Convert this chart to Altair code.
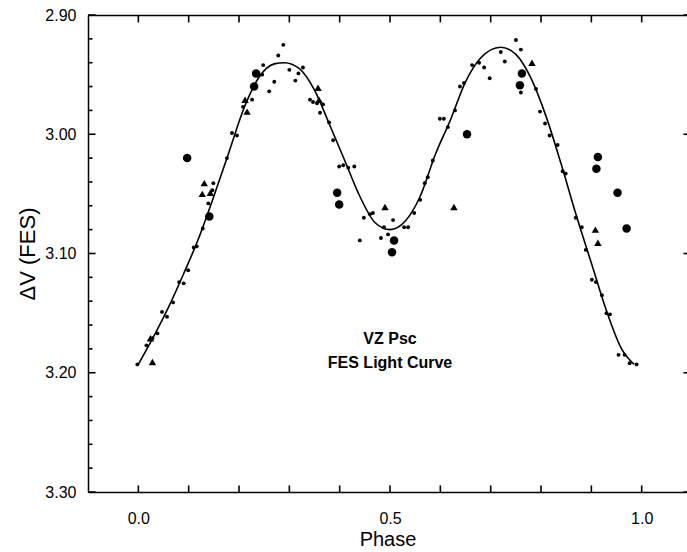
import altair as alt
import pandas as pd

# fitted light curve
curve_phase = [0.00, 0.03, 0.06, 0.09, 0.12, 0.15, 0.18, 0.21, 0.24, 0.27, 0.29, 0.32,
               0.35, 0.38, 0.41, 0.44, 0.47, 0.50, 0.53, 0.56, 0.59, 0.62, 0.65, 0.68,
               0.72, 0.75, 0.78, 0.81, 0.84, 0.87, 0.90, 0.93, 0.96, 0.985]
curve_dv = [3.193, 3.170, 3.145, 3.117, 3.087, 3.052, 3.015, 2.978, 2.952, 2.941, 2.940, 2.945,
            2.963, 2.992, 3.022, 3.052, 3.074, 3.080, 3.073, 3.052, 3.017, 2.988, 2.956, 2.936,
            2.927, 2.933, 2.953, 2.985, 3.025, 3.068, 3.108, 3.148, 3.180, 3.193]

# small dots
dot_phase = [-0.002, 0.016, 0.028, 0.038, 0.047, 0.057, 0.069, 0.081, 0.090, 0.099, 0.110, 0.116,
             0.128, 0.139, 0.147, 0.149, 0.176, 0.186, 0.196, 0.208, 0.226, 0.232, 0.246, 0.248,
             0.260, 0.270, 0.278, 0.288, 0.300, 0.312, 0.318, 0.327, 0.341, 0.347, 0.355, 0.361,
             0.367, 0.379, 0.387, 0.399, 0.407, 0.417, 0.429, 0.440, 0.448, 0.460, 0.466, 0.482,
             0.488, 0.496, 0.506, 0.528, 0.536, 0.548, 0.560, 0.569, 0.575, 0.585, 0.599, 0.607,
             0.615, 0.629, 0.639, 0.647, 0.663, 0.677, 0.687, 0.698, 0.720, 0.728, 0.750, 0.760,
             0.760, 0.790, 0.798, 0.808, 0.817, 0.833, 0.843, 0.849, 0.869, 0.881, 0.889, 0.901,
             0.909, 0.921, 0.930, 0.937, 0.954, 0.966, 0.976, 0.990]
dot_dv = [3.193, 3.177, 3.171, 3.167, 3.149, 3.153, 3.141, 3.124, 3.125, 3.114, 3.095, 3.094,
          3.079, 3.058, 3.047, 3.041, 3.020, 2.999, 3.001, 2.977, 2.971, 2.959, 2.950, 2.942,
          2.964, 2.956, 2.934, 2.925, 2.946, 2.955, 2.949, 2.944, 2.971, 2.973, 2.974, 2.982,
          2.975, 2.990, 3.005, 3.027, 3.026, 3.028, 3.027, 3.089, 3.070, 3.067, 3.066, 3.087,
          3.078, 3.084, 3.072, 3.078, 3.078, 3.066, 3.055, 3.041, 3.036, 3.022, 2.987, 2.987,
          2.994, 2.980, 2.960, 2.957, 2.942, 2.940, 2.944, 2.953, 2.931, 2.939, 2.921, 2.929,
          2.965, 2.962, 2.981, 2.991, 3.001, 3.009, 3.031, 3.033, 3.070, 3.078, 3.097, 3.122,
          3.124, 3.135, 3.150, 3.151, 3.185, 3.185, 3.192, 3.193]

# large filled circles
circle_phase = [0.097, 0.141, 0.234, 0.230, 0.395, 0.399, 0.508, 0.504, 0.653, 0.762, 0.758,
                0.913, 0.910, 0.952, 0.970]
circle_dv = [3.020, 3.069, 2.949, 2.960, 3.049, 3.059, 3.089, 3.099, 3.000, 2.949, 2.959,
             3.019, 3.029, 3.049, 3.079]

# filled triangles
tri_phase = [0.024, 0.028, 0.131, 0.127, 0.143, 0.212, 0.216, 0.357, 0.359, 0.490, 0.627,
             0.782, 0.908, 0.913]
tri_dv = [3.171, 3.191, 3.041, 3.050, 3.049, 2.971, 2.981, 2.961, 2.971, 3.061, 3.061,
          2.940, 3.080, 3.091]

note_text = ["VZ Psc", "FES Light Curve"]
note_phase = [0.5, 0.5]
note_dv = [3.172, 3.192]

x_labels = [0.0, 0.5, 1.0]
x_ticks = [0.0, 0.1, 0.2, 0.3, 0.4, 0.5, 0.6, 0.7, 0.8, 0.9, 1.0]
y_labels = [2.90, 3.00, 3.10, 3.20, 3.30]
y_minor = [2.92, 2.94, 2.96, 2.98, 3.02, 3.04, 3.06, 3.08, 3.12, 3.14, 3.16, 3.18,
           3.22, 3.24, 3.26, 3.28]
x_min, x_max = -0.1, 1.1     # full phase range of the frame (right edge is cut off)
y_top, y_bottom = 2.90, 3.30
# inward tick lengths, in axis units
x_major_len, x_minor_len, x_right_len = 0.015, 0.009, 0.017
y_bottom_len, y_top_len = 0.0055, 0.0062

curve_df = pd.DataFrame({"phase": curve_phase, "dv": curve_dv})
dot_df = pd.DataFrame({"phase": dot_phase, "dv": dot_dv})
circle_df = pd.DataFrame({"phase": circle_phase, "dv": circle_dv})
tri_df = pd.DataFrame({"phase": tri_phase, "dv": tri_dv})
note_df = pd.DataFrame({"phase": note_phase, "dv": note_dv, "text": note_text})

ytick_df = pd.concat([
    pd.DataFrame({"dv": y_labels, "a": x_min, "b": x_min + x_major_len}),
    pd.DataFrame({"dv": y_minor, "a": x_min, "b": x_min + x_minor_len}),
    pd.DataFrame({"dv": y_labels, "a": x_max - x_right_len, "b": x_max}),
], ignore_index=True)
xtick_df = pd.concat([
    pd.DataFrame({"phase": x_ticks, "a": y_bottom, "b": y_bottom - y_bottom_len}),
    pd.DataFrame({"phase": x_ticks, "a": y_top, "b": y_top + y_top_len}),
], ignore_index=True)

FONT = "Liberation Sans"
xs = alt.Scale(domain=[-0.1, 1.09], nice=False, zero=False)
ys = alt.Scale(domain=[2.90, 3.30], reverse=True, nice=False, zero=False)

line = alt.Chart(curve_df).mark_line(color="black", strokeWidth=1.6,
                                     interpolate="monotone").encode(
    x=alt.X("phase:Q", scale=xs,
            axis=alt.Axis(orient="bottom", values=x_labels, format=".1f", labelFont=FONT,
                          labelFontSize=16, labelPadding=18, labelColor="black",
                          title="Phase", titleFont=FONT, titleFontSize=20,
                          titleFontWeight="normal", titleColor="black", titlePadding=3,
                          ticks=False, tickSize=0, domainColor="black", domainWidth=1.5,
                          grid=False)),
    y=alt.Y("dv:Q", scale=ys,
            axis=alt.Axis(orient="left", values=y_labels, format=".2f", labelFont=FONT,
                          labelFontSize=16, labelPadding=12, labelColor="black",
                          title="ΔV (FES)", titleFont=FONT, titleFontSize=22,
                          titleFontWeight="normal", titleColor="black", titlePadding=5,
                          ticks=False, tickSize=0, domainColor="black", domainWidth=1.5,
                          grid=False)),
)

dots = alt.Chart(dot_df).mark_circle(color="black", size=15, opacity=1).encode(
    x=alt.X("phase:Q", scale=xs,
            axis=alt.Axis(orient="top", labels=False, ticks=False, domain=True,
                          domainColor="black", domainWidth=1.5, grid=False, title="")),
    y=alt.Y("dv:Q", scale=ys, axis=None),
)

circles = alt.Chart(circle_df).mark_circle(color="black", size=72, opacity=1).encode(
    x=alt.X("phase:Q", scale=xs, axis=None),
    y=alt.Y("dv:Q", scale=ys, axis=None),
)

tris = alt.Chart(tri_df).mark_point(shape="triangle-up", filled=True, color="black",
                                    size=55, opacity=1).encode(
    x=alt.X("phase:Q", scale=xs, axis=None),
    y=alt.Y("dv:Q", scale=ys, axis=None),
)

notes = alt.Chart(note_df).mark_text(font=FONT, fontSize=16, fontWeight="bold",
                                     color="black", align="center",
                                     baseline="middle").encode(
    x=alt.X("phase:Q", scale=xs, axis=None),
    y=alt.Y("dv:Q", scale=ys, axis=None),
    text="text:N",
)

yticks = alt.Chart(ytick_df).mark_rule(color="black", strokeWidth=1.6).encode(
    x=alt.X("a:Q", scale=xs, axis=None),
    x2="b:Q",
    y=alt.Y("dv:Q", scale=ys, axis=None),
)

xticks = alt.Chart(xtick_df).mark_rule(color="black", strokeWidth=1.6).encode(
    x=alt.X("phase:Q", scale=xs, axis=None),
    y=alt.Y("a:Q", scale=ys, axis=None),
    y2="b:Q",
)

chart = alt.layer(line, dots, circles, tris, notes, yticks, xticks).resolve_axis(
    x="independent", y="independent"
).properties(
    width=599, height=477,
    autosize=alt.AutoSizeParams(type="none"),
    padding={"left": 88, "top": 15, "right": 0, "bottom": 60},
    background="white",
).configure_view(strokeWidth=0)

chart.save("out.html", embed_options={"renderer": "svg", "actions": False})
